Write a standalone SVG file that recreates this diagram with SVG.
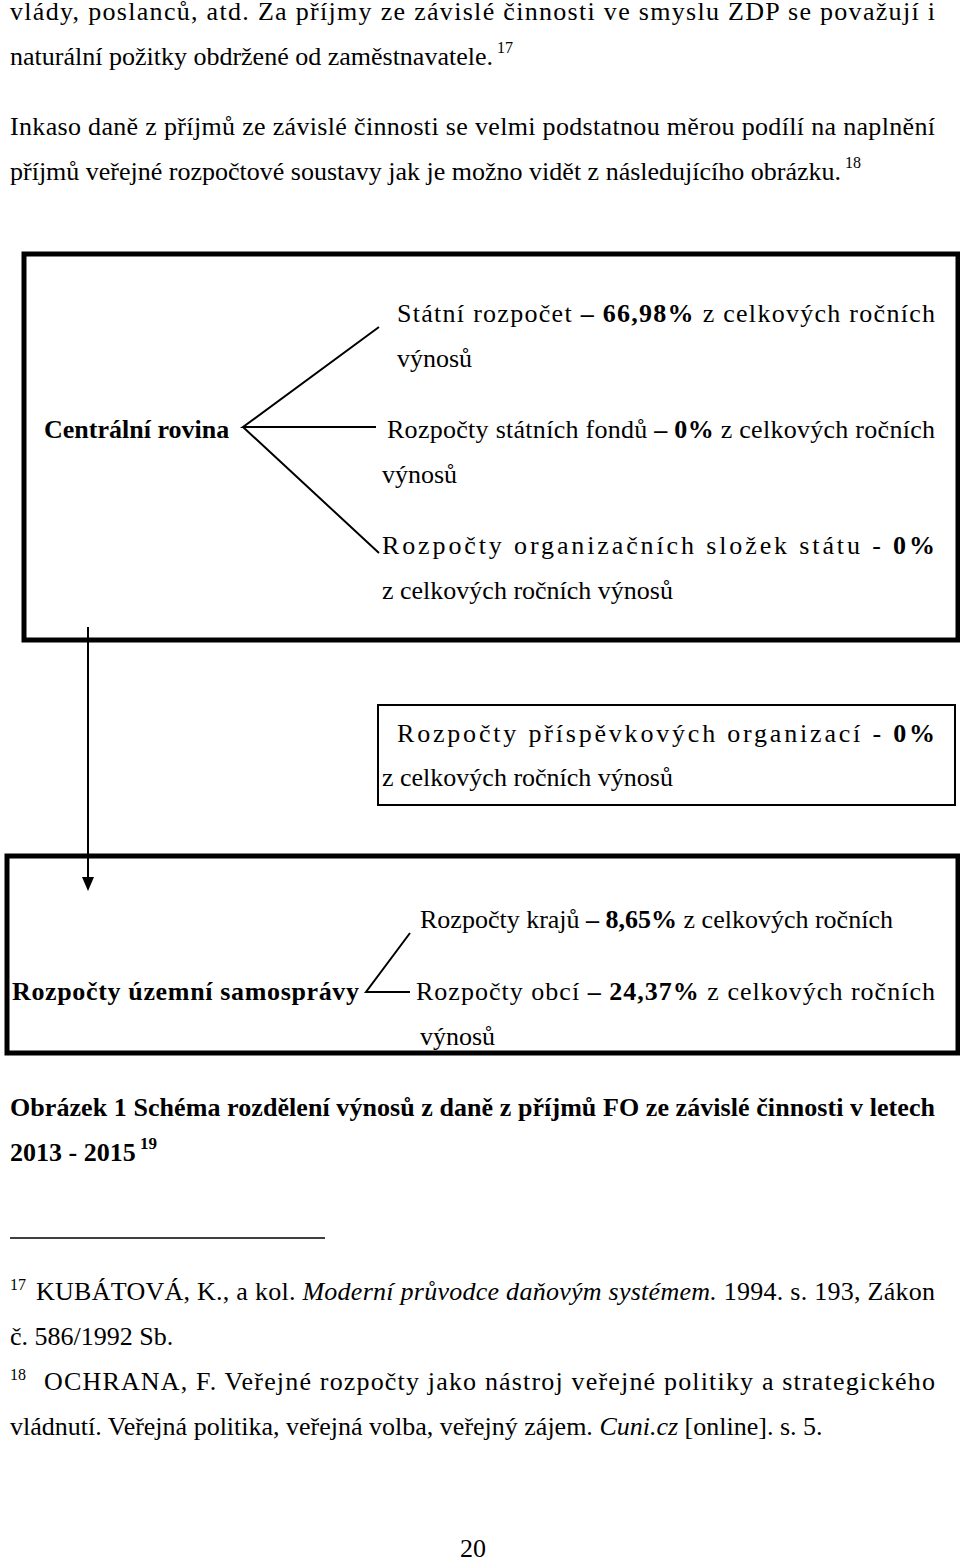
<svg xmlns="http://www.w3.org/2000/svg" width="960" height="1561" viewBox="0 0 960 1561">
<style>
text{font-family:"Liberation Serif","Times New Roman",serif;font-size:26px;fill:#000}
.b{font-weight:bold}
.s{font-size:16px}
.ln{stroke:#000;stroke-width:2;fill:none}
.bx{stroke:#000;stroke-width:5;fill:none}
</style>
<rect width="960" height="1561" fill="#fff"/>
<text x="10" y="20" textLength="925" lengthAdjust="spacing">vlády, poslanců, atd. Za příjmy ze závislé činnosti ve smyslu ZDP se považují i</text>
<text x="10" y="65">naturální požitky obdržené od zaměstnavatele.<tspan class="s" dy="-12"> 17</tspan></text>
<text x="10" y="135" textLength="925" lengthAdjust="spacing">Inkaso daně z příjmů ze závislé činnosti se velmi podstatnou měrou podílí na naplnění</text>
<text x="10" y="180">příjmů veřejné rozpočtové soustavy jak je možno vidět z následujícího obrázku.<tspan class="s" dy="-12"> 18</tspan></text>

<g id="central">
<rect class="bx" x="24" y="254" width="934" height="386"/>
<text class="b" x="44" y="438">Centrální rovina</text>
</g>
<g id="statni"><text x="397" y="322" textLength="538" lengthAdjust="spacing">Státní rozpočet <tspan class="b">–</tspan> <tspan class="b">66,98%</tspan> z celkových ročních</text><text x="397" y="367">výnosů</text></g>
<g id="fondy"><text x="387" y="438" textLength="548" lengthAdjust="spacing">Rozpočty státních fondů <tspan class="b">–</tspan> <tspan class="b">0%</tspan> z celkových ročních</text><text x="382" y="483">výnosů</text></g>
<g id="slozky"><text x="382" y="554" textLength="553" lengthAdjust="spacing">Rozpočty organizačních složek státu - <tspan class="b">0%</tspan></text><text x="382" y="599">z celkových ročních výnosů</text></g>
<g id="prispevkove">
<rect x="378" y="705" width="577" height="100" fill="none" stroke="#000" stroke-width="2"/>
<text x="397" y="742" textLength="538" lengthAdjust="spacing">Rozpočty příspěvkových organizací - <tspan class="b">0%</tspan></text><text x="382" y="786">z celkových ročních výnosů</text></g>
<g id="uzemni">
<rect class="bx" x="7" y="856" width="951" height="197"/>
<text class="b" x="12" y="1000" textLength="347" lengthAdjust="spacing">Rozpočty územní samosprávy</text>
</g>
<g id="kraje"><text x="420" y="928">Rozpočty krajů <tspan class="b">–</tspan> <tspan class="b">8,65%</tspan> z celkových ročních</text></g>
<g id="obce"><text x="416" y="1000" textLength="519" lengthAdjust="spacing">Rozpočty obcí <tspan class="b">–</tspan> <tspan class="b">24,37%</tspan> z celkových ročních</text><text x="420" y="1045">výnosů</text></g>

<g id="connectors">
<path class="ln" d="M379,327 L243,427 L376,427 M243,427 L379,553"/>
<path class="ln" d="M410,933 L366,992 L410,992"/>
<line class="ln" x1="88" y1="627" x2="88" y2="878"/>
<path d="M82,877 L94,877 L88,891Z" fill="#000"/>
</g>

<text class="b" x="10" y="1116" textLength="925" lengthAdjust="spacing">Obrázek 1 Schéma rozdělení výnosů z daně z příjmů FO ze závislé činnosti v letech</text>
<text class="b" x="10" y="1161">2013 - 2015<tspan class="s" dy="-12" style="font-size:17px"> 19</tspan></text>
<line x1="10" y1="1238" x2="325" y2="1238" stroke="#000" stroke-width="1.5"/>
<text class="s" x="10" y="1290">17</text>
<text x="36" y="1300" textLength="899" lengthAdjust="spacing">KUBÁTOVÁ, K., a kol. <tspan font-style="italic">Moderní průvodce daňovým systémem.</tspan> 1994. s. 193, Zákon</text>
<text x="10" y="1345">č. 586/1992 Sb.</text>
<text class="s" x="10" y="1380">18</text>
<text x="44" y="1390" textLength="891" lengthAdjust="spacing">OCHRANA, F. Veřejné rozpočty jako nástroj veřejné politiky a strategického</text>
<text x="10" y="1435">vládnutí. Veřejná politika, veřejná volba, veřejný zájem. <tspan font-style="italic">Cuni.cz</tspan> [online]. s. 5.</text>
<text x="460" y="1557">20</text>
</svg>
